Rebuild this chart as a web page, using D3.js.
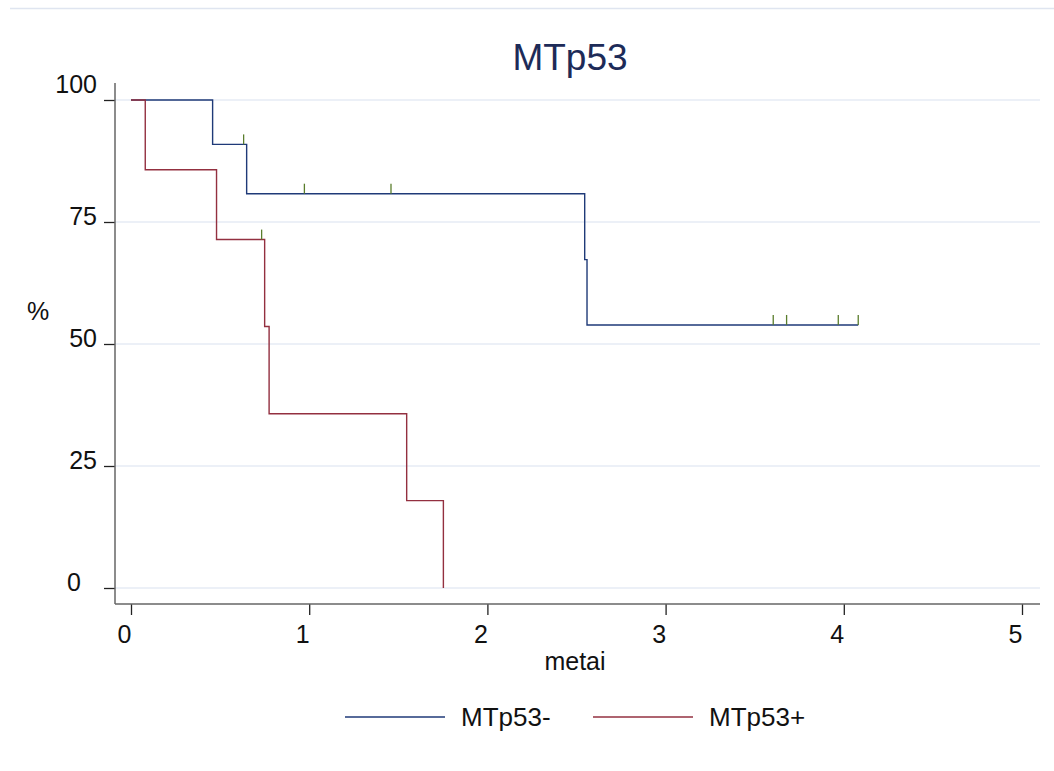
<!DOCTYPE html>
<html>
<head>
<meta charset="utf-8">
<script src="https://cdn.jsdelivr.net/npm/d3@7"></script>
<style>
  html, body { margin: 0; padding: 0; background: #fff; }
  svg { display: block; font-family: "Liberation Sans", Arial, sans-serif; }
</style>
</head>
<body>
<svg id="chart" width="1054" height="771"></svg>
<script>
// ---- data ----
const seriesNames = ["MTp53-", "MTp53+"];
const seriesColors = ["#1f3a78", "#933040"];
// Kaplan-Meier step points: time (years, "metai") and survival (%)
const negTimes  = [0, 0.458, 0.649, 2.546, 2.559, 4.081];
const negValues = [100, 90.9, 80.8, 67.3, 53.9, 53.9];
const posTimes  = [0, 0.080, 0.480, 0.750, 0.775, 1.547, 1.753];
const posValues = [100, 85.7, 71.4, 53.6, 35.7, 17.9, 0];
// censored observations
const negCensorTimes  = [0.632, 0.973, 1.459, 3.604, 3.679, 3.969, 4.081];
const negCensorValues = [90.9, 80.8, 80.8, 53.9, 53.9, 53.9, 53.9];
const posCensorTimes  = [0.733];
const posCensorValues = [71.4];
const xTicks = [0, 1, 2, 3, 4, 5];
const yTicks = [0, 25, 50, 75, 100];
const titleText = "MTp53";
const xLabel = "metai";
const yLabel = "%";

// ---- layout ----
const svg = d3.select("#chart");
const x = d3.scaleLinear().domain([0, 5]).range([131, 1022]);
const y = d3.scaleLinear().domain([0, 100]).range([588, 100]);
const axisLeftX = 115, axisRightX = 1040, axisBottomY = 604, axisTopY = 83;
const tickFont = 25;

// outer frame line (top)
svg.append("line").attr("x1", 10).attr("x2", 1054).attr("y1", 8.5).attr("y2", 8.5)
  .attr("stroke", "#dfe5f0").attr("stroke-width", 1.5);

// gridlines
svg.append("g").selectAll("line").data(yTicks).join("line")
  .attr("x1", axisLeftX).attr("x2", axisRightX)
  .attr("y1", d => y(d)).attr("y2", d => y(d))
  .attr("stroke", "#e6ebf4").attr("stroke-width", 1.5);

// y axis
const yAxis = d3.axisLeft(y).tickValues(yTicks).tickSize(11).tickPadding(0).tickFormat(d3.format("d"));
const gy = svg.append("g").attr("transform", `translate(${axisLeftX},0)`).call(yAxis);
gy.select(".domain").remove();
gy.selectAll(".tick line").attr("stroke", "#222").attr("stroke-width", 1.3);
gy.selectAll(".tick text")
  .attr("x", d => d === 0 ? -34 : -18)
  .attr("dy", d => d === 100 ? "-0.32em" : "0.1em")
  .attr("fill", "#111").style("font-size", tickFont + "px").style("font-family", "Liberation Sans, Arial, sans-serif");
svg.append("line").attr("x1", axisLeftX).attr("x2", axisLeftX).attr("y1", axisTopY).attr("y2", axisBottomY)
  .attr("stroke", "#666").attr("stroke-width", 1.5);

// x axis
const xAxis = d3.axisBottom(x).tickValues(xTicks).tickSize(11).tickPadding(10).tickFormat(d3.format("d"));
const gx = svg.append("g").attr("transform", `translate(0,${axisBottomY})`).call(xAxis);
gx.select(".domain").remove();
gx.selectAll(".tick line").attr("stroke", "#222").attr("stroke-width", 1.3);
gx.selectAll(".tick text")
  .attr("dx", -7)
  .attr("fill", "#111").style("font-size", tickFont + "px").style("font-family", "Liberation Sans, Arial, sans-serif");
svg.append("line").attr("x1", axisLeftX).attr("x2", axisRightX).attr("y1", axisBottomY).attr("y2", axisBottomY)
  .attr("stroke", "#666").attr("stroke-width", 1.5);

// titles
svg.append("text").attr("x", 570).attr("y", 70).attr("text-anchor", "middle")
  .attr("fill", "#1d2b58").style("font-size", "37px").text(titleText);
svg.append("text").attr("x", 575).attr("y", 670).attr("text-anchor", "middle")
  .attr("fill", "#111").style("font-size", "25px").text(xLabel);
svg.append("text").attr("x", 38).attr("y", 320).attr("text-anchor", "middle")
  .attr("fill", "#111").style("font-size", "25px").text(yLabel);

// curves
const line = d3.line().x(d => x(d[0])).y(d => y(d[1])).curve(d3.curveStepAfter);
const curves = [
  d3.zip(negTimes, negValues),
  d3.zip(posTimes, posValues)
];
svg.append("g").selectAll("path").data(curves).join("path")
  .attr("d", line).attr("fill", "none")
  .attr("stroke", (d, i) => seriesColors[i]).attr("stroke-width", 1.4);

// censor marks
const censors = d3.zip(negCensorTimes, negCensorValues).concat(d3.zip(posCensorTimes, posCensorValues));
svg.append("g").selectAll("line").data(censors).join("line")
  .attr("x1", d => x(d[0])).attr("x2", d => x(d[0]))
  .attr("y1", d => y(d[1])).attr("y2", d => y(d[1]) - 10)
  .attr("stroke", "#5a7d2c").attr("stroke-width", 1.3);

// legend
const legendX = [345, 593];
const lg = svg.append("g").selectAll("g").data(seriesNames).join("g")
  .attr("transform", (d, i) => `translate(${legendX[i]},717)`);
lg.append("line").attr("x1", 0).attr("x2", 100).attr("y1", 0).attr("y2", 0)
  .attr("stroke", (d, i) => seriesColors[i]).attr("stroke-width", 1.6);
lg.append("text").attr("x", 116).attr("y", 9).attr("fill", "#111")
  .style("font-size", "26px").text(d => d);
</script>
</body>
</html>
